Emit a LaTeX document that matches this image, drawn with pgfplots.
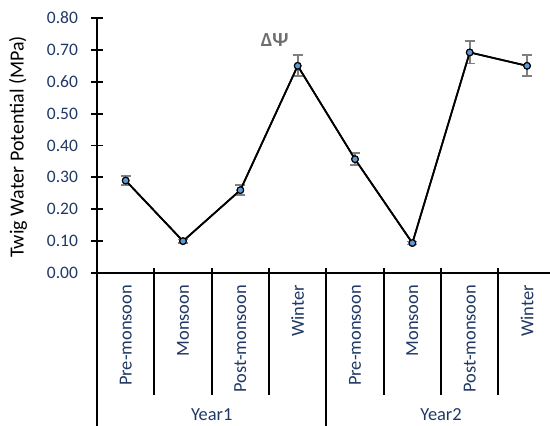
\documentclass[border=0pt]{standalone}
\usepackage{pgfplots}
\pgfplotsset{compat=1.18}
\usepackage{fontspec}
\setmainfont{Carlito}
\definecolor{navy}{HTML}{1F3864}
\definecolor{mfill}{HTML}{5B9BD5}
\definecolor{ebar}{HTML}{7F7F7F}
\definecolor{dpsi}{HTML}{6E6E6E}
\begin{document}
\fontsize{17.5}{21}\selectfont
\begin{tikzpicture}
\useasboundingbox (-97pt,-153pt) rectangle (453pt,273pt);
\begin{axis}[
  at={(0pt,0pt)}, anchor=south west,
  scale only axis, width=453pt, height=255pt,
  xmin=-0.5, xmax=7.4, ymin=0, ymax=0.8,
  axis lines*=left,
  axis line style={line width=1.8pt, black},
  clip=false,
  ytick={0,0.1,0.2,0.3,0.4,0.5,0.6,0.7,0.8},
  /pgf/number format/fixed, /pgf/number format/fixed zerofill,
  /pgf/number format/precision=2, /pgf/number format/assume math mode=true,
  yticklabel style={text=navy, font=\fontsize{17.5}{21}\selectfont, xshift=-7pt},
  ytick style={line width=1.8pt, black},
  major tick length=12pt, tick align=center,
  xtick={0,1,2,3,4,5,6,7},
  xticklabels={Pre-monsoon,Monsoon,Post-monsoon,Winter,Pre-monsoon,Monsoon,Post-monsoon,Winter},
  xtick style={draw=none},
  xticklabel style={rotate=90, anchor=east, text=navy, font=\fontsize{18.4}{22}\selectfont},
]
\addplot[black, line width=1.7pt, mark=*, mark size=3.3pt,
  mark options={fill=mfill, draw=black, line width=1.1pt},
  error bars/.cd, y dir=both, y explicit,
  error bar style={line width=1.7pt, ebar},
  error mark options={rotate=90, mark size=5pt, line width=1.7pt, ebar}]
  table[x=x, y=y, y error=e] {
x y e
0 0.290 0.014
1 0.100 0.005
2 0.260 0.015
3 0.650 0.033
4 0.357 0.019
5 0.094 0.005
6 0.692 0.035
7 0.650 0.033
};
\addplot[black, line width=1.7pt, mark=*, mark size=3.3pt,
  mark options={fill=mfill, draw=black, line width=1.1pt}]
  table[x=x, y=y] {
x y
0 0.290
1 0.100
2 0.260
3 0.650
4 0.357
5 0.094
6 0.692
7 0.650
};
\draw[line width=1.8pt] ([yshift=5pt]axis cs:0.5,0) -- ([yshift=-122pt]axis cs:0.5,0);
\draw[line width=1.8pt] ([yshift=5pt]axis cs:1.5,0) -- ([yshift=-122pt]axis cs:1.5,0);
\draw[line width=1.8pt] ([yshift=5pt]axis cs:2.5,0) -- ([yshift=-122pt]axis cs:2.5,0);
\draw[line width=1.8pt] ([yshift=5pt]axis cs:4.5,0) -- ([yshift=-122pt]axis cs:4.5,0);
\draw[line width=1.8pt] ([yshift=5pt]axis cs:5.5,0) -- ([yshift=-122pt]axis cs:5.5,0);
\draw[line width=1.8pt] ([yshift=5pt]axis cs:6.5,0) -- ([yshift=-122pt]axis cs:6.5,0);
\draw[line width=1.8pt] ([yshift=5pt]axis cs:-0.5,0) -- ([yshift=-160pt]axis cs:-0.5,0);
\draw[line width=1.8pt] ([yshift=5pt]axis cs:3.5,0) -- ([yshift=-160pt]axis cs:3.5,0);
\node[text=navy, anchor=base, inner sep=0pt, font=\fontsize{18.4}{22}\selectfont] at ([yshift=-147.5pt]axis cs:1.5,0) {Year1};
\node[text=navy, anchor=base, inner sep=0pt, font=\fontsize{18.4}{22}\selectfont] at ([yshift=-147.5pt]axis cs:5.5,0) {Year2};
\node[text=dpsi, font=\fontsize{20}{24}\selectfont\bfseries] at (axis cs:2.6,0.73) {ΔΨ};
\end{axis}
\node[rotate=90, font=\fontsize{20}{24}\selectfont] at (-79pt,126pt) {Twig Water Potential (MPa)};
\end{tikzpicture}
\end{document}
